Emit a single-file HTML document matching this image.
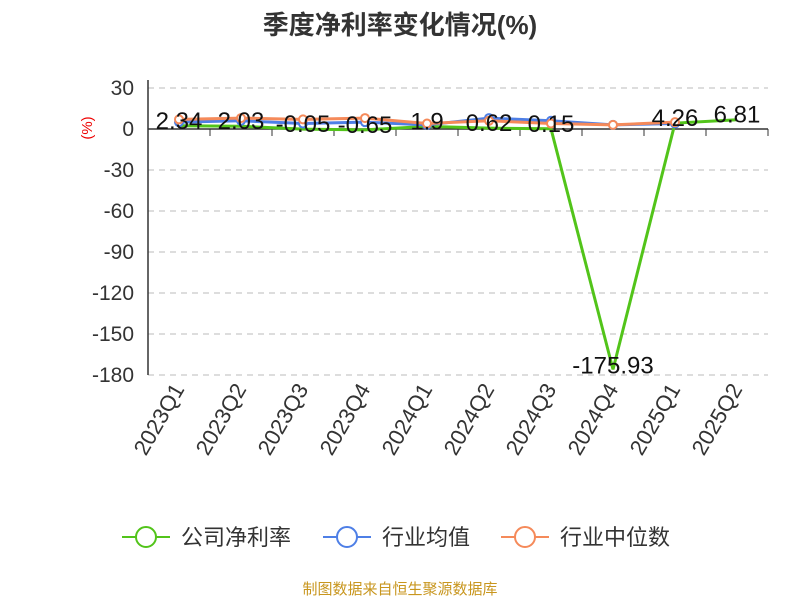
<!DOCTYPE html>
<html><head><meta charset="utf-8"><style>
body{margin:0;background:#fff;font-family:"Liberation Sans","Noto Sans CJK SC",sans-serif}
</style></head><body>
<svg id="c" width="800" height="600" xmlns="http://www.w3.org/2000/svg">
<text x="400" y="34" text-anchor="middle" font-size="26" font-weight="bold" fill="#333" font-family="Liberation Sans,Noto Sans CJK SC,sans-serif">季度净利率变化情况(%)</text>
<text transform="translate(92,128) rotate(-90)" text-anchor="middle" font-size="15" fill="#e00">(%)</text>
<g id="grid"></g><g id="axes"></g><g id="series"></g>
<g font-size="22" fill="#333" font-family="Liberation Sans,Noto Sans CJK SC,sans-serif">
<g><line x1="122" y1="537" x2="170" y2="537" stroke="#52c41a" stroke-width="2"/><circle cx="146" cy="537" r="10" fill="#fff" stroke="#52c41a" stroke-width="2"/><text x="181" y="545">公司净利率</text></g>
<g><line x1="323" y1="537" x2="371" y2="537" stroke="#4e7fe6" stroke-width="2"/><circle cx="347" cy="537" r="10" fill="#fff" stroke="#4e7fe6" stroke-width="2"/><text x="382" y="545">行业均值</text></g>
<g><line x1="501" y1="537" x2="549" y2="537" stroke="#f58a5a" stroke-width="2"/><circle cx="525" cy="537" r="10" fill="#fff" stroke="#f58a5a" stroke-width="2"/><text x="560" y="545">行业中位数</text></g>
</g>
<text x="400" y="594" text-anchor="middle" font-size="15" fill="#c8961e" font-family="Liberation Sans,Noto Sans CJK SC,sans-serif">制图数据来自恒生聚源数据库</text>
</svg>
<script>
const categories=["2023Q1","2023Q2","2023Q3","2023Q4","2024Q1","2024Q2","2024Q3","2024Q4","2025Q1","2025Q2"];
const company=[2.34,2.03,-0.05,-0.65,1.9,0.62,0.15,-175.93,4.26,6.81];
const industryAvg=[5,6,4,5,3,8,6,3,4];
const industryMedian=[7,8,7,8,4,6,4,3,5];
const yTicks=[30,0,-30,-60,-90,-120,-150,-180];
const NS="http://www.w3.org/2000/svg";
const x0=148,x1=768,yTop=88,yBot=375,vMax=30,vMin=-180;
const band=(x1-x0)/categories.length;
const X=i=>x0+band*(i+0.5);
const Y=v=>yTop+(vMax-v)/(vMax-vMin)*(yBot-yTop);
function mk(t,a,p){const e=document.createElementNS(NS,t);for(const k in a)e.setAttribute(k,a[k]);p.appendChild(e);return e;}
const grid=document.getElementById('grid'),axes=document.getElementById('axes'),ser=document.getElementById('series');
yTicks.forEach(v=>{
 if(v!==0){const l=mk('line',{x1:x0,x2:x1,y1:Y(v),y2:Y(v),stroke:'#bbb','stroke-dasharray':'6,5'},grid);
 }
 const t=mk('text',{x:x0-14,y:Y(v)+7,'text-anchor':'end','font-size':21,fill:'#333'},axes);t.textContent=v;
 
});
const ya=mk('line',{x1:x0,x2:x0,y1:yTop-8,y2:yBot,stroke:'#333','stroke-width':1.5},axes);

const xa=mk('line',{x1:x0,x2:x1,y1:Y(0),y2:Y(0),stroke:'#333','stroke-width':1.5},axes);

for(let i=0;i<=categories.length;i++){const tk=mk('line',{x1:x0+band*i,x2:x0+band*i,y1:Y(0),y2:Y(0)+7,stroke:'#333'},axes);
 }
categories.forEach((c,i)=>{const t=mk('text',{transform:`translate(${X(i)+6},${yBot+14}) rotate(-60)`,'text-anchor':'end','font-size':22,fill:'#333'},axes);
 t.textContent=c;});
function line(data,color,name,pts){
 const p=mk('polyline',{points:data.map((v,i)=>X(i)+','+Y(v)).join(' '),fill:'none',stroke:color,'stroke-width':3},ser);
 
 if(pts)data.forEach((v,i)=>{const c=mk('circle',{cx:X(i),cy:Y(v),r:4,fill:'#fff',stroke:color,'stroke-width':2},ser);
  });
}
line(company,'#52c41a','company',false);
line(industryAvg,'#4e7fe6','industry-avg',true);
line(industryMedian,'#f58a5a','industry-median',true);
company.forEach((v,i)=>{const t=mk('text',{x:X(i),y:Y(v)+(v<-100?4:3),'text-anchor':'middle','font-size':24,fill:'#111'},ser);
 t.textContent=v;});
</script>
</body></html>
